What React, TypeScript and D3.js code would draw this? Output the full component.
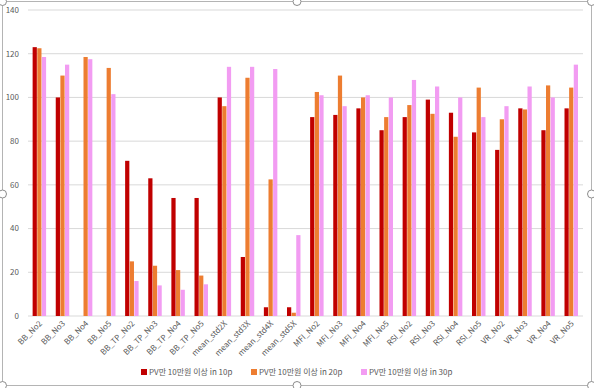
import * as d3 from "d3";
import { useEffect, useRef } from "react";

// categories and series
const categories = [
  "BB_No2", "BB_No3", "BB_No4", "BB_No5",
  "BB_TP_No2", "BB_TP_No3", "BB_TP_No4", "BB_TP_No5",
  "mean_std2X", "mean_std3X", "mean_std4X", "mean_std5X",
  "MFI_No2", "MFI_No3", "MFI_No4", "MFI_No5",
  "RSI_No2", "RSI_No3", "RSI_No4", "RSI_No5",
  "VR_No2", "VR_No3", "VR_No4", "VR_No5",
];
const series10p = [123, 100, 0, 0, 71, 63, 54, 54, 100, 27, 4, 4, 91, 92, 95, 85, 91, 99, 93, 84, 76, 95, 85, 95];
const series20p = [122.5, 110, 118.5, 113.5, 25, 23, 21, 18.5, 96, 109, 62.5, 1.5, 102.5, 110, 100, 91, 96.5, 92.5, 82, 104.5, 90, 94.5, 105.5, 104.5];
const series30p = [118.5, 115, 117.5, 101.5, 16, 14, 12, 14.5, 114, 114, 113, 37, 101, 96, 101, 100, 108, 105, 100, 91, 96, 105, 100, 115];
const seriesNames = ["PV만 10만원 이상 in 10p", "PV만 10만원 이상 in 20p", "PV만 10만원 이상 in 30p"];
const seriesColors = ["#C00000", "#ED7D31", "#F29CF2"];
const yTicks = [0, 20, 40, 60, 80, 100, 120, 140];

const W = 594, H = 388;
const margin = { top: 10, right: 11, bottom: 72, left: 28 };

export default function App() {
  const svgRef = useRef(null);

  useEffect(() => {
    const svg = d3.select(svgRef.current);
    svg.selectAll("*").remove();

    const font = "'Noto Sans CJK KR', 'Noto Sans', sans-serif";
    const plotW = W - margin.left - margin.right;
    const plotH = 316 - margin.top;

    // chart frame (selected chart in Excel)
    svg.append("rect")
      .attr("x", 2.5).attr("y", 1.5)
      .attr("width", W - 5).attr("height", H - 4)
      .attr("fill", "#fff")
      .attr("stroke", "#b4b4b4");

    const g = svg.append("g").attr("transform", `translate(${margin.left},${margin.top})`);

    const x = d3.scaleBand().domain(categories).range([0, plotW]).paddingInner(0.4).paddingOuter(0.2);
    const xs = d3.scaleBand().domain(["a", "b", "c"]).range([0, x.bandwidth()]);
    const y = d3.scaleLinear().domain([0, 140]).range([plotH, 0]);

    // gridlines
    g.selectAll(".grid")
      .data(yTicks)
      .enter().append("line")
      .attr("x1", 0).attr("x2", plotW)
      .attr("y1", d => y(d)).attr("y2", d => y(d))
      .attr("stroke", "#d9d9d9")
      .attr("stroke-width", 1);

    g.selectAll(".ylab")
      .data(yTicks)
      .enter().append("text")
      .attr("x", -9)
      .attr("y", d => y(d))
      .attr("dy", "0.35em")
      .attr("text-anchor", "end")
      .attr("font-family", font)
      .attr("font-size", 8)
      .attr("fill", "#595959")
      .text(d => d);

    const allSeries = [series10p, series20p, series30p];
    const keys = ["a", "b", "c"];

    allSeries.forEach((vals, si) => {
      g.selectAll(`.bar${si}`)
        .data(vals)
        .enter().append("rect")
        .attr("x", (d, i) => x(categories[i]) + xs(keys[si]))
        .attr("y", d => y(d))
        .attr("width", xs.bandwidth() - 0.4)
        .attr("height", d => plotH - y(d))
        .attr("fill", seriesColors[si]);
    });

    // x labels, rotated
    g.selectAll(".xlab")
      .data(categories)
      .enter().append("text")
      .attr("transform", d => `translate(${x(d) + x.bandwidth() / 2 + 3},${plotH + 8}) rotate(-45)`)
      .attr("text-anchor", "end")
      .attr("font-family", font)
      .attr("font-size", 8)
      .attr("fill", "#595959")
      .text(d => d);

    // legend
    const legendX = [141, 251, 361];
    const legend = svg.append("g");
    seriesNames.forEach((name, i) => {
      legend.append("rect")
        .attr("x", legendX[i]).attr("y", 369)
        .attr("width", 6).attr("height", 6)
        .attr("fill", seriesColors[i]);
      legend.append("text")
        .attr("x", legendX[i] + 8).attr("y", 372)
        .attr("dy", "0.35em")
        .attr("font-family", font)
        .attr("font-size", 8)
        .attr("fill", "#595959")
        .text(name);
    });

    // selection handles
    const handles = [[2.5, 1.5], [297, 1.5], [591.5, 1.5], [2.5, 194], [591.5, 194], [2.5, 385.5], [297, 385.5], [591.5, 385.5]];
    svg.selectAll(".handle")
      .data(handles)
      .enter().append("circle")
      .attr("cx", d => d[0]).attr("cy", d => d[1])
      .attr("r", 4)
      .attr("fill", "#fff")
      .attr("stroke", "#8c8c8c");
  }, []);

  return (
    <svg ref={svgRef} width={W} height={H} style={{ position: "absolute", left: 0, top: 0, display: "block" }} />
  );
}
